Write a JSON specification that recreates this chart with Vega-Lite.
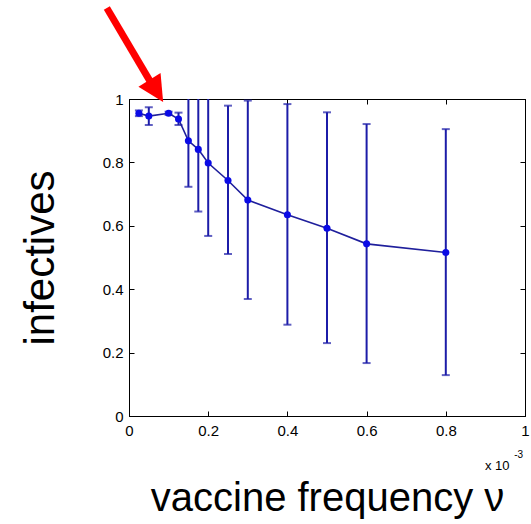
{
  "$schema": "https://vega.github.io/schema/vega-lite/v6.json",
  "width": 396,
  "height": 317,
  "autosize": {"type": "none"},
  "padding": {"left": 129, "top": 99, "right": 6, "bottom": 108},
  "background": "white",
  "config": {
    "view": {"stroke": "black", "strokeWidth": 1},
    "font": "Liberation Sans",
    "axis": {
      "domainColor": "black",
      "tickColor": "black",
      "tickSize": -5,
      "labelColor": "black",
      "labelFont": "Liberation Sans",
      "labelFontSize": 15,
      "labelFlush": false,
      "labelOverlap": false,
      "grid": false,
      "titleColor": "black",
      "titleFont": "Liberation Sans",
      "titleFontWeight": "normal"
    }
  },
  "datasets": {
    "pts": [
      {"nu": 0.025, "inf": 0.955, "lo": 0.946, "hi": 0.964},
      {"nu": 0.05, "inf": 0.946, "lo": 0.918, "hi": 0.974},
      {"nu": 0.1, "inf": 0.955, "lo": 0.950, "hi": 0.960},
      {"nu": 0.125, "inf": 0.937, "lo": 0.918, "hi": 0.957},
      {"nu": 0.15, "inf": 0.868, "lo": 0.723, "hi": 1.013},
      {"nu": 0.175, "inf": 0.841, "lo": 0.645, "hi": 1.037},
      {"nu": 0.2, "inf": 0.798, "lo": 0.568, "hi": 1.028},
      {"nu": 0.25, "inf": 0.743, "lo": 0.511, "hi": 0.979},
      {"nu": 0.3, "inf": 0.681, "lo": 0.369, "hi": 0.995},
      {"nu": 0.4, "inf": 0.635, "lo": 0.288, "hi": 0.984},
      {"nu": 0.5, "inf": 0.592, "lo": 0.230, "hi": 0.958},
      {"nu": 0.6, "inf": 0.543, "lo": 0.167, "hi": 0.921},
      {"nu": 0.8, "inf": 0.516, "lo": 0.129, "hi": 0.905}
    ],
    "arrow": [
      {"x1": -0.056, "y1": 1.287, "x2": 0.056, "y2": 1.050, "hx": 0.069, "hy": 1.0256}
    ],
    "notes": [
      {"tx": 0.93, "ty": -0.158, "label": "x 10", "size": 13},
      {"tx": 0.984, "ty": -0.122, "label": "-3", "size": 10}
    ]
  },
  "layer": [
    {
      "data": {"name": "pts"},
      "mark": {"type": "rule", "color": "#1c1ca8", "strokeWidth": 2, "clip": true},
      "encoding": {
        "x": {"field": "nu", "type": "quantitative", "scale": {"domain": [0, 1]},
              "axis": {"orient": "bottom", "values": [0, 0.2, 0.4, 0.6, 0.8, 1], "format": "~g", "labelPadding": 12,
                       "title": "vaccine frequency ν", "titleFontSize": 40, "titlePadding": 40}},
        "y": {"field": "lo", "type": "quantitative", "scale": {"domain": [0, 1]},
              "axis": {"orient": "left", "values": [0, 0.2, 0.4, 0.6, 0.8, 1], "format": "~g", "labelPadding": 11,
                       "title": "infectives", "titleFontSize": 42, "titlePadding": 40}},
        "y2": {"field": "hi"}
      }
    },
    {
      "data": {"name": "pts"},
      "mark": {"type": "tick", "orient": "horizontal", "color": "#1c1ca8", "size": 8, "thickness": 2, "clip": true},
      "encoding": {
        "x": {"field": "nu", "type": "quantitative",
              "axis": {"orient": "top", "values": [0, 0.2, 0.4, 0.6, 0.8, 1], "labels": false, "title": null}},
        "y": {"field": "lo", "type": "quantitative",
              "axis": {"orient": "right", "values": [0, 0.2, 0.4, 0.6, 0.8, 1], "labels": false, "title": null}}
      }
    },
    {
      "data": {"name": "pts"},
      "mark": {"type": "tick", "orient": "horizontal", "color": "#1c1ca8", "size": 8, "thickness": 2, "clip": true},
      "encoding": {
        "x": {"field": "nu", "type": "quantitative", "axis": null},
        "y": {"field": "hi", "type": "quantitative", "axis": null}
      }
    },
    {
      "data": {"name": "pts"},
      "mark": {"type": "line", "color": "#1f1f9c", "strokeWidth": 1.6},
      "encoding": {
        "x": {"field": "nu", "type": "quantitative", "axis": null},
        "y": {"field": "inf", "type": "quantitative", "axis": null}
      }
    },
    {
      "data": {"name": "pts"},
      "mark": {"type": "point", "shape": "circle", "filled": true, "color": "#0a0ae6", "size": 50, "opacity": 1},
      "encoding": {
        "x": {"field": "nu", "type": "quantitative", "axis": null},
        "y": {"field": "inf", "type": "quantitative", "axis": null}
      }
    },
    {
      "data": {"name": "arrow"},
      "mark": {"type": "rule", "color": "#ff0000", "strokeWidth": 7},
      "encoding": {
        "x": {"field": "x1", "type": "quantitative", "axis": null},
        "y": {"field": "y1", "type": "quantitative", "axis": null},
        "x2": {"field": "x2"},
        "y2": {"field": "y2"}
      }
    },
    {
      "data": {"name": "arrow"},
      "mark": {"type": "point", "shape": "M0,-1L1,1L-1,1Z", "filled": true, "color": "#ff0000", "size": 676, "angle": 148.3, "opacity": 1, "strokeWidth": 0},
      "encoding": {
        "x": {"field": "hx", "type": "quantitative", "axis": null},
        "y": {"field": "hy", "type": "quantitative", "axis": null}
      }
    },
    {
      "data": {"name": "notes"},
      "mark": {"type": "text", "color": "black", "font": "Liberation Sans", "align": "center", "baseline": "middle"},
      "encoding": {
        "x": {"field": "tx", "type": "quantitative", "axis": null},
        "y": {"field": "ty", "type": "quantitative", "axis": null},
        "text": {"field": "label"},
        "size": {"field": "size", "type": "quantitative", "scale": null}
      }
    }
  ],
  "resolve": {"axis": {"x": "independent", "y": "independent"}}
}
